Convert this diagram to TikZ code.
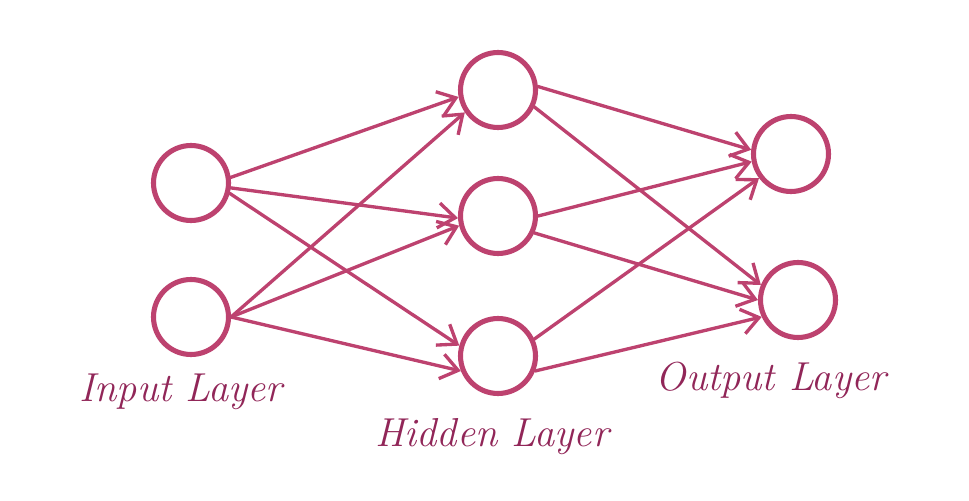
\documentclass[tikz,border=0pt]{standalone}
\usetikzlibrary{arrows.meta}
\definecolor{nodecolor}{RGB}{189,66,111}
\definecolor{labelcolor}{RGB}{145,38,88}
\begin{document}
\begin{tikzpicture}[x=0.02cm, y=-0.02cm, line cap=round,
		main/.style = {draw=nodecolor, circle, line width=2.9pt, minimum size=1.5cm, inner sep=0pt},
		link/.style = {draw=nodecolor, line width=1.9pt, -{Straight Barb[length=3.4mm, width=5mm, line width=1.9pt]}},
		layer/.style = {text=labelcolor, font=\fontsize{23}{27}\selectfont\itshape}]
		\useasboundingbox (0,0) rectangle (969,500);
		\node[main] (In1) at (191,183) {};
		\node[main] (In2) at (191,317) {};
		
		\node[main] (Hid1) at (498,90) {};
		\node[main] (Hid2) at (498,216) {};
		\node[main] (Hid3) at (498,356) {};
		
		\node[main] (Out1) at (791,154) {};
		\node[main] (Out2) at (798,300) {};
		
		\node[layer] (InLabel) at (181,392) {Input Layer};
		\node[layer] (HidLabel) at (492,437) {Hidden Layer};
		\node[layer] (OutLabel) at (771,380) {Output Layer};
		
		\draw[link] (In1.8) -- (Hid1.190);
		\draw[link] (In1.-7) -- (Hid2.183);
		\draw[link] (In1.-15) -- (Hid3.165);
		
		\draw[link] (In2.east) -- (Hid1.214);
		\draw[link] (In2.east) -- (Hid2.194);
		\draw[link] (In2.east) -- (Hid3.202);
		
		\draw[link] (Hid1.5) -- (Out1.174);
		\draw[link] (Hid1.-25) -- (Out2.158);
		\draw[link] (Hid2.0) -- (Out1.191);
		\draw[link] (Hid2.-25) -- (Out2.180);
		\draw[link] (Hid3.25) -- (Out1.217);
		\draw[link] (Hid3.-22) -- (Out2.205);
	\end{tikzpicture}
\end{document}
